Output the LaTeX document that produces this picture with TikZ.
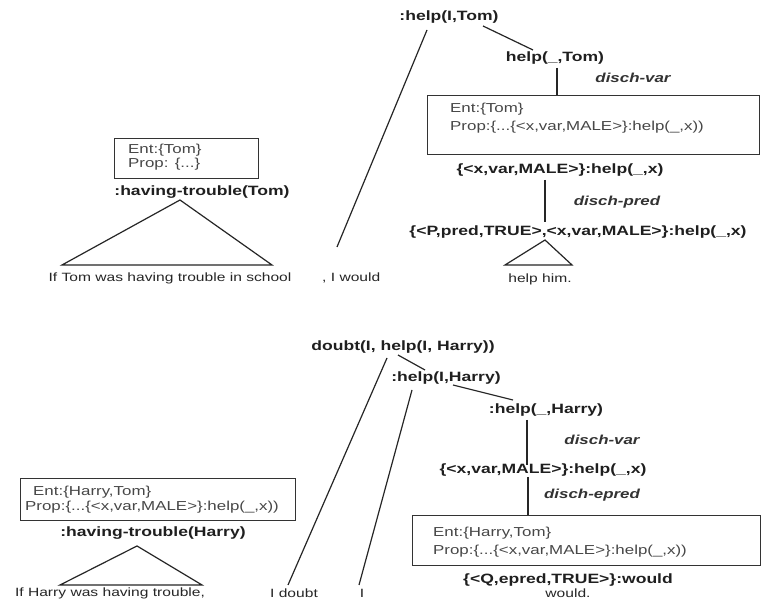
\documentclass[tikz,border=0pt]{standalone}
\usepackage{fontspec}
\setmainfont{Liberation Sans}[FakeStretch=1.3]
\begin{document}
\begin{tikzpicture}[x=1pt,y=-1pt,
  lab/.style={font=\bfseries\fontsize{13.5}{15}\selectfont, text=black!88, inner sep=0pt},
  rulelab/.style={font=\bfseries\itshape\fontsize{13}{15}\selectfont, text=black!80, inner sep=0pt},
  boxtext/.style={font=\fontsize{13}{16}\selectfont, text=black!72, inner sep=0pt, anchor=west},
  sent/.style={font=\fontsize{12}{14}\selectfont, text=black!85, inner sep=0pt},
  frame/.style={draw=black!80, line width=1.1pt, inner sep=0pt, anchor=north west},
  conn/.style={draw=black!85, line width=1.2pt},
]
\useasboundingbox[fill=white] (0,0) rectangle (761,601);

% ---------- upper derivation ----------
\node[lab] (a) at (449,17) {:help(I,Tom)};
\node[lab] (b) at (555,58) {help(\_,Tom)};
\node[rulelab] (r1) at (633,78) {disch-var};
\node[frame, minimum width=332pt, minimum height=59pt] (box1) at (427,95) {};
\node[boxtext] (e1) at (450,109) {Ent:\{Tom\}};
\node[boxtext] (p1) at (450,127) {Prop:\{...\{<x,var,MALE>\}:help(\_,x))};
\node[lab] (c) at (560,170) {\{<x,var,MALE>\}:help(\_,x)};
\node[rulelab] (r2) at (617,202) {disch-pred};
\node[lab] (d) at (578,232) {\{<P,pred,TRUE>,<x,var,MALE>\}:help(\_,x)};
\node[sent] (hh) at (540,279) {help him.};

\node[frame, minimum width=144pt, minimum height=40pt] (box2) at (114,138) {};
\node[boxtext] (e2) at (128,150) {Ent:\{Tom\}};
\node[boxtext] (p2) at (128,164) {Prop: \{...\}};
\node[lab] (ht) at (202,192) {:having-trouble(Tom)};
\node[sent] (s1) at (170,278) {If Tom was having trouble in school};
\node[sent, anchor=west] (s2) at (322,278) {, I would};

\coordinate (ab1) at (483,26);
\coordinate (ab2) at (533,50);
\draw[conn] (ab1) -- (ab2);
\coordinate (al1) at (427,30);
\coordinate (al2) at (337,247);
\draw[conn] (al1) -- (al2);
\coordinate (v1) at (557,68);
\draw[conn] (v1) -- (v1 |- box1.north);
\coordinate (v2a) at (545,180);
\coordinate (v2b) at (545,222);
\draw[conn] (v2a) -- (v2b);
\coordinate (t1a) at (545,240);
\coordinate (t1b) at (505,265);
\coordinate (t1c) at (572,265);
\draw[conn] (t1a) -- (t1b) -- (t1c) -- cycle;
\coordinate (t2a) at (180,200);
\coordinate (t2b) at (62,265);
\coordinate (t2c) at (272,265);
\draw[conn] (t2a) -- (t2b) -- (t2c) -- cycle;

% ---------- lower derivation ----------
\node[lab] (e) at (403,347) {doubt(I, help(I, Harry))};
\node[lab] (f) at (446,378) {:help(I,Harry)};
\node[lab] (g) at (546,410) {:help(\_,Harry)};
\node[rulelab] (r3) at (602,440) {disch-var};
\node[lab] (h) at (543,470) {\{<x,var,MALE>\}:help(\_,x)};
\node[rulelab] (r4) at (592,495) {disch-epred};
\node[frame, minimum width=348pt, minimum height=50pt] (box3) at (412,515) {};
\node[boxtext] (e3) at (433,533) {Ent:\{Harry,Tom\}};
\node[boxtext] (p3) at (433,551) {Prop:\{...\{<x,var,MALE>\}:help(\_,x))};
\node[lab] (q) at (568,580) {\{<Q,epred,TRUE>\}:would};
\node[sent] (w) at (568,593) {would.};

\node[frame, minimum width=275pt, minimum height=42pt] (box4) at (20,478) {};
\node[boxtext] (e4) at (33,492) {Ent:\{Harry,Tom\}};
\node[boxtext] (p4) at (25,507) {Prop:\{...\{<x,var,MALE>\}:help(\_,x))};
\node[lab] (hh2) at (153,533) {:having-trouble(Harry)};
\node[sent] (s3) at (110,593) {If Harry was having trouble,};
\node[sent] (s4) at (294,593) {I doubt};
\node[sent] (s5) at (362,593) {I};

\coordinate (ef1) at (398,355);
\coordinate (ef2) at (425,370);
\draw[conn] (ef1) -- (ef2);
\coordinate (el1) at (387,358);
\coordinate (el2) at (288,585);
\draw[conn] (el1) -- (el2);
\coordinate (fg1) at (453,385);
\coordinate (fg2) at (513,400);
\draw[conn] (fg1) -- (fg2);
\coordinate (fl1) at (412,390);
\coordinate (fl2) at (359,585);
\draw[conn] (fl1) -- (fl2);
\coordinate (v3a) at (527,420);
\coordinate (v3b) at (527,465);
\draw[conn] (v3a) -- (v3b);
\coordinate (v4) at (528,477);
\draw[conn] (v4) -- (v4 |- box3.north);
\coordinate (t3a) at (137,546);
\coordinate (t3b) at (60,585);
\coordinate (t3c) at (202,585);
\draw[conn] (t3a) -- (t3b) -- (t3c) -- cycle;
\end{tikzpicture}
\end{document}
